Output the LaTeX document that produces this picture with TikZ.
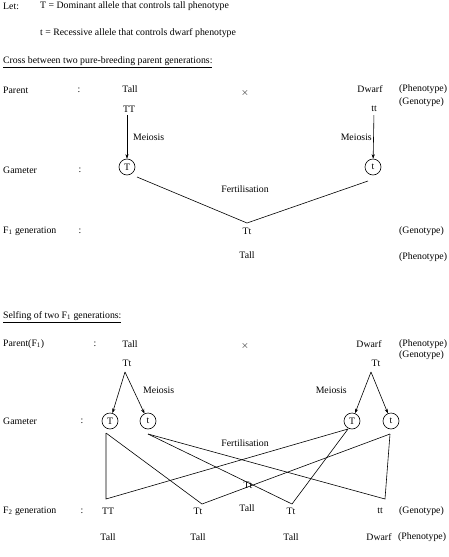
\documentclass[tikz,border=0pt]{standalone}
\usepackage{fontspec}
\setmainfont{Liberation Serif}
\usetikzlibrary{arrows.meta}
\begin{document}
\begin{tikzpicture}[x=1pt,y=-1pt,
  every node/.style={font=\fontsize{9.8}{11}\selectfont, inner sep=0pt},
  lbl/.style={anchor=west},
  gam/.style={circle, draw, minimum size=16pt, inner sep=0pt, line width=0.6pt},
  arr/.style={-{Stealth[length=4.5pt,width=3.2pt]}, line width=0.6pt},
  ln/.style={line width=0.6pt}]
\useasboundingbox (0,0) rectangle (449,557);
% header
\node[lbl] (let) at (3,6) {Let:};
\node[lbl] (defT) at (40,6) {T = Dominant allele that controls tall phenotype};
\node[lbl] (deft) at (40,33) {t = Recessive allele that controls dwarf phenotype};
\node[lbl] (head1) at (3,62) {\underline{Cross between two pure-breeding parent generations:}};
% section 1
\node[lbl] (par1) at (3,90) {Parent};
\node (colp1) at (79,90) {:};
\node (tall1) at (130,89) {Tall};
\node (x1) at (245,93) {$\times$};
\node (dwarf1) at (370,89) {Dwarf};
\node[lbl] (ph1) at (399,89) {(Phenotype)};
\node[lbl] (ge1) at (399,102) {(Genotype)};
\node (TT1) at (129,109) {TT};
\node (tt1) at (374,109) {tt};
\node[lbl] (gamlab1) at (3,170) {Gameter};
\node (colg1) at (80,170) {:};
\node[gam] (gT1) at (127,167) {T};
\node[gam] (gt1) at (373,167) {t};
\node[lbl] (mei1) at (133,137) {Meiosis};
\node[anchor=east] (mei2) at (372,137) {Meiosis};
\draw[arr, shorten <=3pt] (gT1 |- TT1.south) -- (gT1);
\draw[arr, shorten <=3pt] (tt1.south) -- (gt1);
\coordinate (s1a) at (137,177);
\coordinate (s1b) at (368,181);
\coordinate (v1) at (247,223);
\draw[ln] (s1a) -- (v1) -- (s1b);
\node (fert1) at (245,189) {Fertilisation};
\node[lbl] (f1lab) at (3,231) {F\textsubscript{1} generation};
\node (colf1) at (80,231) {:};
\node (Tt1) at (247,231) {Tt};
\node[lbl] (ge2) at (399,231) {(Genotype)};
\node (tallF1) at (247,255) {Tall};
\node[lbl] (ph2) at (399,257) {(Phenotype)};
% section 2
\node[lbl] (head2) at (3,317) {\underline{Selfing of two F\textsubscript{1} generations:}};
\node[lbl] (par2) at (3,344) {Parent(F\textsubscript{1})};
\node (colp2) at (95,344) {:};
\node (tall2) at (130,344) {Tall};
\node (x2) at (245,346) {$\times$};
\node (dwarf2) at (369,344) {Dwarf};
\node[lbl] (ph3) at (399,344) {(Phenotype)};
\node[lbl] (ge3) at (399,355) {(Genotype)};
\node (TtL) at (127,363) {Tt};
\node (TtR) at (376,363) {Tt};
\coordinate (aL) at (125,372);
\coordinate (aR) at (371,372);
\node[gam] (gTL) at (110,421) {T};
\node[gam] (gtL) at (148,421) {t};
\node[gam] (gTR) at (352,421) {T};
\node[gam] (gtR) at (391,421) {t};
\draw[arr] (aL) -- (gTL);
\draw[arr] (aL) -- (gtL);
\draw[arr] (aR) -- (gTR);
\draw[arr] (aR) -- (gtR);
\node[lbl] (mei3) at (143,390) {Meiosis};
\node[anchor=east] (mei4) at (347,390) {Meiosis};
\node[lbl] (gamlab2) at (3,421) {Gameter};
\node (colg2) at (82,421) {:};
\node (fert2) at (245,443) {Fertilisation};
\coordinate (sTL) at (106,433);
\coordinate (stL) at (148,434);
\coordinate (sTR) at (348,429);
\coordinate (stR) at (390,434);
\coordinate (w1) at (106,499);
\coordinate (w2) at (202,504);
\coordinate (w3) at (292,504);
\coordinate (w4) at (385,499);
\node (ghostTt) at (248,485) {Tt};
\node (ghostTall) at (247,508) {Tall};
\draw[ln] (sTL) -- (w1) -- (sTR);
\draw[ln] (sTL) -- (w2) -- (stR);
\draw[ln] (stL) -- (w3) -- (sTR);
\draw[ln] (stL) -- (w4) -- (stR);
\node[lbl] (f2lab) at (3,511) {F\textsubscript{2} generation};
\node (colf2) at (82,511) {:};
\node (TT2) at (108,511) {TT};
\node (Tt2a) at (198,511) {Tt};
\node (Tt2b) at (291,511) {Tt};
\node (tt2) at (380,511) {tt};
\node[lbl] (ge4) at (399,511) {(Genotype)};
\node (tl1) at (108,537) {Tall};
\node (tl2) at (198,537) {Tall};
\node (tl3) at (291,537) {Tall};
\node (dw2) at (379,537) {Dwarf};
\node[lbl] (ph4) at (398,537) {(Phenotype)};
\end{tikzpicture}
\end{document}
